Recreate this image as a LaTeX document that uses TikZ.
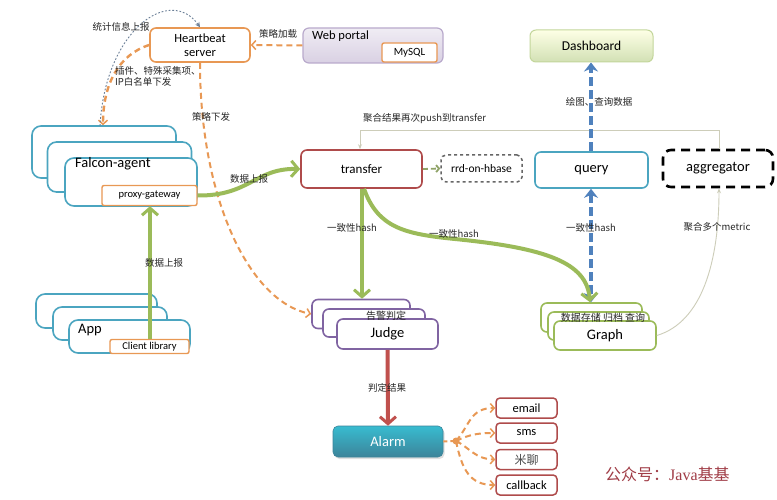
\documentclass[tikz,border=0pt]{standalone}
\usepackage{fontspec}
\setmainfont{Carlito}
\newfontfamily\cjk{Noto Sans CJK SC}
\usetikzlibrary{arrows.meta,calc,shadows}
\definecolor{orng}{RGB}{232,152,84}
\definecolor{tealb}{RGB}{75,165,192}
\definecolor{grn}{RGB}{155,187,89}
\definecolor{blu}{RGB}{79,129,189}
\definecolor{redd}{RGB}{192,80,77}
\definecolor{purp}{RGB}{128,100,162}
\definecolor{drkred}{RGB}{175,75,75}
\definecolor{thin}{RGB}{205,205,185}
\definecolor{wmark}{RGB}{160,60,70}
\begin{document}
\begin{tikzpicture}[x=1pt,y=-1pt,
  rbox/.style={draw,rounded corners=6pt,fill=white,line width=1.6pt,inner sep=0pt},
  lbl/.style={font=\cjk\fontsize{9.5}{11}\selectfont,inner sep=0pt,text=black!85},
  garrow/.style={draw=grn,line width=4pt,-{Straight Barb[length=7pt,width=16pt,line width=3pt]}},
  oarrow/.style={draw=orng,line width=2pt,dash pattern=on 6pt off 4pt,-{Straight Barb[length=4pt,width=9pt,line width=1.5pt]}},
  barrow/.style={draw=blu,line width=3.5pt,dash pattern=on 9pt off 4pt}
]
\useasboundingbox (0,0) rectangle (777,500);
\fill[white] (0,0) rectangle (777,500);

% ---------------- Heartbeat & Web portal
\node[rbox,draw=orng,minimum width=100pt,minimum height=34pt,align=center,font=\fontsize{12.5}{14}\selectfont] (hb) at (200,45) {Heartbeat\\server};
\node[draw=purp!55,rounded corners=6pt,line width=1.2pt,top color=purp!12,bottom color=purp!30,minimum width=140pt,minimum height=35pt,inner sep=0pt] (wp) at (373,45.5) {};
\node[anchor=north west,inner sep=0pt,font=\fontsize{12.5}{14}\selectfont] (wpt) at (312,31) {Web portal};
\node[rbox,draw=orng,rounded corners=2pt,line width=1.4pt,minimum width=55pt,minimum height=19pt,font=\fontsize{11}{12}\selectfont] (mysql) at (409.5,52.5) {MySQL};

% ---------------- Falcon-agent stack
\node[rbox,draw=tealb,rounded corners=9pt,minimum width=144pt,minimum height=52pt] (fa3) at (104,152) {};
\node[rbox,draw=tealb,rounded corners=9pt,minimum width=144pt,minimum height=50pt] (fa2) at (119.5,167) {};
\node[rbox,draw=tealb,rounded corners=9pt,minimum width=132pt,minimum height=48pt] (fa) at (131,182) {};
\node[anchor=west,inner sep=0pt,font=\fontsize{14.5}{16}\selectfont] (fat) at (75,164) {Falcon-agent};
\node[rbox,draw=orng,rounded corners=2pt,line width=1.4pt,minimum width=95pt,minimum height=20pt,font=\fontsize{10.5}{12}\selectfont] (pg) at (149.5,195.5) {proxy-gateway};

% ---------------- App stack
\node[rbox,draw=tealb,rounded corners=9pt,minimum width=121pt,minimum height=34pt] (app3) at (96.5,311) {};
\node[rbox,draw=tealb,rounded corners=9pt,minimum width=114pt,minimum height=33pt] (app2) at (110,323.5) {};
\node[rbox,draw=tealb,rounded corners=9pt,minimum width=121pt,minimum height=33pt] (app) at (129.5,336.5) {};
\node[anchor=west,inner sep=0pt,font=\fontsize{14.5}{16}\selectfont] (appt) at (78,330) {App};
\node[rbox,draw=orng,rounded corners=2pt,line width=1.4pt,minimum width=79pt,minimum height=14pt,font=\fontsize{10.5}{12}\selectfont] (cl) at (149.5,346.5) {Client library};

% ---------------- transfer row
\node[rbox,draw=drkred,minimum width=121pt,minimum height=38pt,font=\fontsize{13}{15}\selectfont] (tr) at (361.5,169) {transfer};
\node[rbox,draw=black!60,dashed,line width=1.5pt,rounded corners=5pt,minimum width=81pt,minimum height=27pt,font=\fontsize{11.5}{13}\selectfont] (rrd) at (481.5,168.5) {rrd-on-hbase};
\node[rbox,draw=tealb,minimum width=113pt,minimum height=36pt,font=\fontsize{14.5}{16}\selectfont] (q) at (591.5,170) {query};
\node[rbox,draw=black,line width=2.6pt,dash pattern=on 9pt off 6pt,rounded corners=8pt,minimum width=110pt,minimum height=37pt,font=\fontsize{14.5}{16}\selectfont] (agg) at (718,168.5) {aggregator};

% ---------------- Dashboard
\node[draw=grn!60,line width=1pt,rounded corners=6pt,top color=green!6!yellow!10,bottom color=grn!45,minimum width=123pt,minimum height=32pt,inner sep=0pt,font=\fontsize{13.5}{15}\selectfont] (db) at (591.5,46) {Dashboard};

% ---------------- Judge stack
\node[rbox,draw=purp,minimum width=98pt,minimum height=29pt] (j3) at (361,314) {};
\node[rbox,draw=purp,minimum width=102pt,minimum height=28pt] (j2) at (374,323) {};
\node[rbox,draw=purp,minimum width=101pt,minimum height=30pt,font=\fontsize{14.5}{16}\selectfont] (j) at (387.5,334) {Judge};
\node[lbl,font=\cjk\fontsize{10}{11}\selectfont] (jt) at (386,315.5) {告警判定};

% ---------------- Graph stack
\node[rbox,draw=grn,minimum width=101pt,minimum height=29pt] (g3) at (591.5,317.5) {};
\node[rbox,draw=grn,minimum width=101pt,minimum height=28pt] (g2) at (598.5,326) {};
\node[rbox,draw=grn,minimum width=102pt,minimum height=29pt,font=\fontsize{14.5}{16}\selectfont] (g) at (605,335.5) {Graph};
\node[lbl,font=\cjk\fontsize{10}{11}\selectfont] (gt) at (603,318) {数据存储 归档 查询};

% ---------------- Alarm & outputs
\node[draw=tealb!80!black,line width=0.6pt,rounded corners=5pt,top color=tealb!75!cyan,bottom color=tealb!80!black,minimum width=110pt,minimum height=31pt,inner sep=0pt,text=white,font=\fontsize{14.5}{16}\selectfont,drop shadow={opacity=0.25,shadow xshift=1.5pt,shadow yshift=-2pt}] (al) at (388,441.5) {Alarm};
\tikzset{obox/.style={rbox,draw=drkred,line width=1.5pt,rounded corners=4pt,minimum width=61pt,minimum height=20pt,font=\fontsize{12.5}{14}\selectfont}}
\node[obox] (em) at (526.5,408) {email};
\node[obox] (sms) at (526.5,433) {sms};
\node[obox,font=\cjk\fontsize{12}{14}\selectfont,text=black!70] (ml) at (526.5,459.5) {米聊};
\node[obox] (cb) at (526.5,485) {callback};

% ---------------- connectors
% web portal -> heartbeat
\draw[oarrow] (wp.west) -- (hb.east);
\node[lbl] (l1) at (278,34) {策略加载};
% heartbeat -> falcon agent
\draw[oarrow,line width=2.4pt] (hb.west) .. controls (118,55) and (103,85) .. (fa3.north -| 103,0);
% falcon agent -> heartbeat (stats)
\coordinate (fs) at (100,126);
\draw[draw=blu!40!gray,line width=0.9pt,dash pattern=on 1.8pt off 1.8pt,-{Stealth[length=5pt,width=5pt]}] (fs) .. controls (105,30) and (170,-15) .. (hb.north);
\node[lbl] (l2) at (121,26.5) {统计信息上报};
\node[lbl,anchor=north west,align=left,font=\cjk\fontsize{9.5}{11.5}\selectfont] (l3) at (115,66) {插件、特殊采集项、\\IP白名单下发};
% heartbeat -> judge
\draw[oarrow] (hb.south) .. controls (200,200) and (250,302) .. (j3.west);
\node[lbl] (l4) at (211,117) {策略下发};

% app -> proxy gateway
\draw[garrow] (cl.north -| 150,0) -- (pg.south -| 150,0);
\node[lbl] (l5) at (164,263) {数据上报};
% proxy gateway -> transfer
\draw[garrow] (pg.east) .. controls (250,196) and (255,168) .. (tr.west);
\node[lbl] (l6) at (249,178.5) {数据上报};

% transfer -> rrd
\draw[draw=grn!60!gray,line width=1.8pt,dash pattern=on 5pt off 3pt,-{Straight Barb[length=3pt,width=7pt]}] (tr.east) -- (rrd.west);

% aggregator -> transfer
\coordinate (c1) at (719,131);
\coordinate (c2) at (360,131);
\draw[draw=thin,line width=1pt,-{Stealth[length=5pt,width=4pt]}] (agg.north -| 719,0) -- (c1) -- (c2) -- (tr.north -| 360,0);
\node[lbl,anchor=west] (l7) at (363,118.5) {聚合结果再次push到transfer};

% query -> dashboard
\draw[barrow,-{Stealth[length=9pt,width=14pt]}] (q.north -| 591,0) -- (db.south -| 591,0);
\node[lbl] (l8) at (599,101.5) {绘图、查询数据};

% query <-> graph
\draw[barrow,{Stealth[length=9pt,width=14pt]}-{Stealth[length=9pt,width=14pt]}] (q.south -| 591,0) -- (g3.north -| 591,0);
\node[lbl] (l9) at (591,228) {一致性hash};

% transfer -> judge
\draw[garrow] (tr.south -| 362,0) -- (j3.north -| 362,0);
\node[lbl] (l10) at (352,227.5) {一致性hash};
% transfer -> graph
\draw[garrow] (tr.south -| 364,0) .. controls (378,228) and (405,234) .. (455,239) .. controls (545,248) and (587,262) .. (g3.north -| 590,0);
\node[lbl] (l11) at (454,234) {一致性hash};

% graph -> aggregator
\draw[draw=thin,line width=0.9pt,-{Stealth[length=5pt,width=4pt]}] (g.east) .. controls (702,322) and (719,262) .. (agg.south -| 719,0);
\node[lbl] (l12) at (717,227) {聚合多个metric};

% judge -> alarm
\draw[draw=redd,line width=4pt,-{Straight Barb[length=7pt,width=16pt,line width=3pt]}] (j.south) -- (al.north);
\node[lbl] (l13) at (387,388) {判定结果};

% alarm -> outputs
\coordinate (ab) at (456,441);
\fill[orng] (ab) circle (3.5pt);
\draw[draw=orng,line width=2pt,dash pattern=on 4pt off 3pt] (al.east) -- (ab);
\draw[oarrow] (ab) .. controls (470,425) and (470,408) .. (em.west);
\draw[oarrow] (ab) .. controls (470,434) and (480,433) .. (sms.west);
\draw[oarrow] (ab) .. controls (470,448) and (475,459) .. (ml.west);
\draw[oarrow] (ab) .. controls (462,470) and (470,485) .. (cb.west);

% watermark
\node[anchor=west,inner sep=0pt,text=wmark,font=\cjk\fontsize{16}{18}\selectfont] (wm) at (605,474) {公众号：{\fontspec{Liberation Serif}Java}基基};
\end{tikzpicture}
\end{document}
